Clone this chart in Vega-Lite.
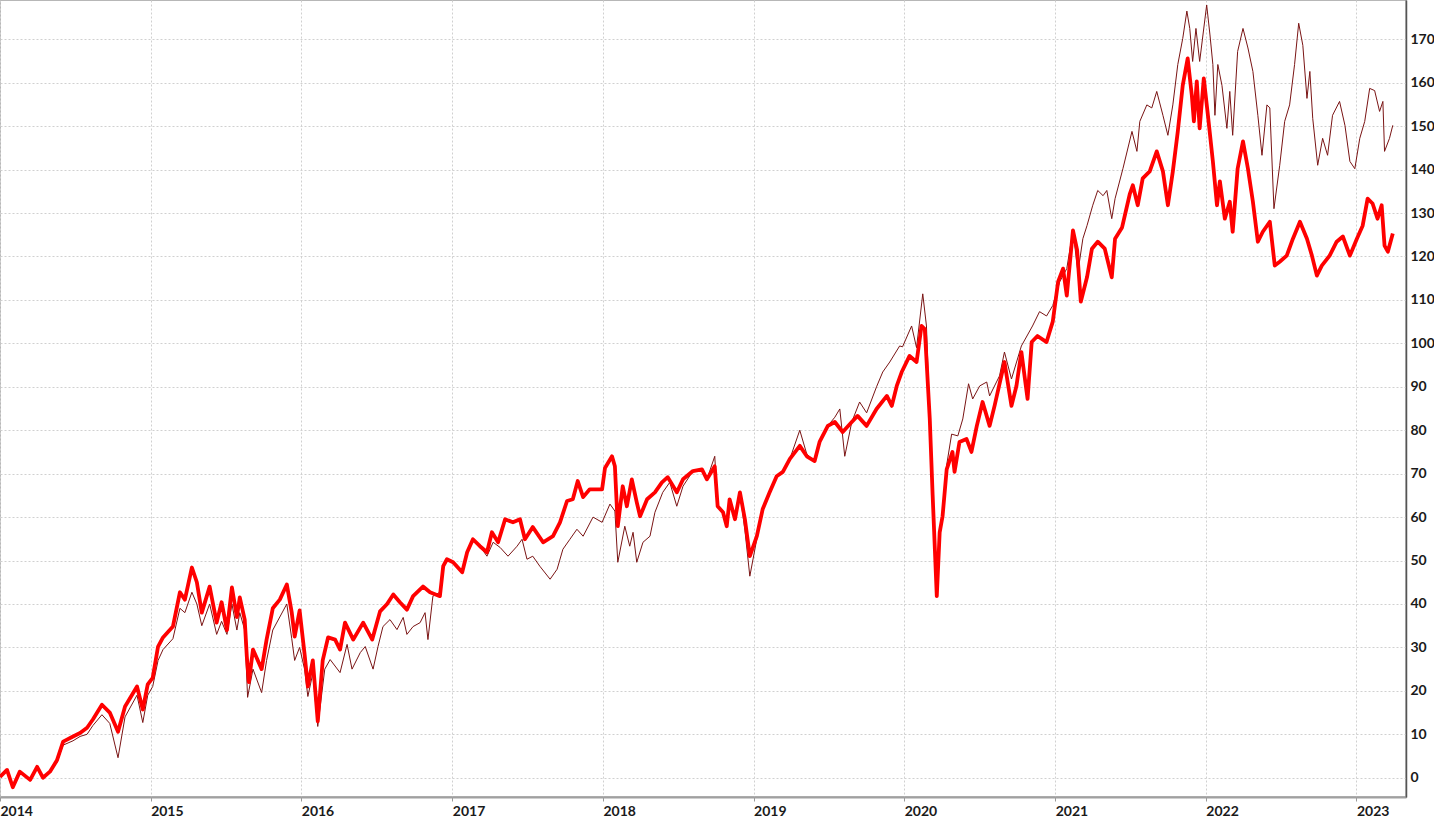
{
  "$schema": "https://vega.github.io/schema/vega-lite/v6.json",
  "width": 1406,
  "height": 797,
  "autosize": {"type": "none"},
  "padding": {"left": 0, "top": 0, "right": 28, "bottom": 23},
  "background": "#ffffff",
  "config": {
    "view": {"stroke": "#a0a0a0", "strokeWidth": 1.5},
    "axis": {"labelFont": "Lato", "labelFontWeight": "bold", "labelFontSize": 14, "labelColor": "#1a1a1a", "title": null}
  },
  "datasets": {
    "thick": [
      {"date":"2014-01-01","value":0.2},{"date":"2014-01-18","value":1.8},{"date":"2014-02-01","value":-2.2},{"date":"2014-02-18","value":1.4},{"date":"2014-03-15","value":-0.5},{"date":"2014-04-01","value":2.5},{"date":"2014-04-15","value":0},{"date":"2014-05-02","value":1.4},{"date":"2014-05-19","value":4},{"date":"2014-06-03","value":8.3},{"date":"2014-06-27","value":9.5},{"date":"2014-07-14","value":10.3},{"date":"2014-07-31","value":11.5},{"date":"2014-08-14","value":13.4},{"date":"2014-09-05","value":16.8},{"date":"2014-09-24","value":15},{"date":"2014-10-14","value":10.6},{"date":"2014-10-31","value":16.4},{"date":"2014-11-29","value":21},{"date":"2014-12-13","value":15.7},{"date":"2014-12-25","value":21.5},
      {"date":"2015-01-06","value":23},{"date":"2015-01-19","value":30.2},{"date":"2015-01-31","value":32.3},{"date":"2015-02-24","value":34.8},{"date":"2015-03-13","value":42.7},{"date":"2015-03-25","value":41},{"date":"2015-04-11","value":48.4},{"date":"2015-04-23","value":45},{"date":"2015-05-05","value":38},{"date":"2015-05-24","value":44},{"date":"2015-06-10","value":35.7},{"date":"2015-06-22","value":40.4},{"date":"2015-07-05","value":34},{"date":"2015-07-17","value":43.8},{"date":"2015-07-29","value":37},{"date":"2015-08-05","value":41.5},{"date":"2015-08-17","value":36.4},{"date":"2015-08-22","value":28},{"date":"2015-08-27","value":22},{"date":"2015-09-06","value":29.5},{"date":"2015-09-27","value":25},{"date":"2015-10-09","value":31.8},{"date":"2015-10-24","value":39},{"date":"2015-11-10","value":41},{"date":"2015-11-27","value":44.5},{"date":"2015-12-09","value":38},{"date":"2015-12-16","value":32.5},{"date":"2015-12-28","value":38.5},
      {"date":"2016-01-09","value":28.5},{"date":"2016-01-17","value":21},{"date":"2016-01-29","value":27},{"date":"2016-02-10","value":13},{"date":"2016-02-22","value":27},{"date":"2016-03-06","value":32.3},{"date":"2016-03-23","value":31.8},{"date":"2016-04-04","value":29.5},{"date":"2016-04-16","value":35.7},{"date":"2016-05-06","value":31.8},{"date":"2016-05-30","value":35.7},{"date":"2016-06-21","value":31.8},{"date":"2016-07-10","value":38.3},{"date":"2016-07-27","value":40},{"date":"2016-08-11","value":42.2},{"date":"2016-08-27","value":40.4},{"date":"2016-09-13","value":38.7},{"date":"2016-09-28","value":41.8},{"date":"2016-10-22","value":44},{"date":"2016-11-08","value":42.7},{"date":"2016-12-02","value":41.8},{"date":"2016-12-10","value":48.7},{"date":"2016-12-19","value":50.3},
      {"date":"2017-01-03","value":49.6},{"date":"2017-01-25","value":47.3},{"date":"2017-02-06","value":51.9},{"date":"2017-02-20","value":54.9},{"date":"2017-03-09","value":53.3},{"date":"2017-03-26","value":51.9},{"date":"2017-04-07","value":56.5},{"date":"2017-04-22","value":54.2},{"date":"2017-05-09","value":59.5},{"date":"2017-05-28","value":58.8},{"date":"2017-06-14","value":59.5},{"date":"2017-06-26","value":54.9},{"date":"2017-07-15","value":57.7},{"date":"2017-08-09","value":54.2},{"date":"2017-09-02","value":55.6},{"date":"2017-09-19","value":58.8},{"date":"2017-10-06","value":63.7},{"date":"2017-10-20","value":64.1},{"date":"2017-11-01","value":68.3},{"date":"2017-11-14","value":64.6},{"date":"2017-11-30","value":66.4},{"date":"2017-12-17","value":66.4},{"date":"2017-12-30","value":66.4},
      {"date":"2018-01-06","value":71.3},{"date":"2018-01-23","value":74},{"date":"2018-01-30","value":71.7},{"date":"2018-02-06","value":57.9},{"date":"2018-02-18","value":67.1},{"date":"2018-02-28","value":62.5},{"date":"2018-03-12","value":68.7},{"date":"2018-03-24","value":63.4},{"date":"2018-04-01","value":60.2},{"date":"2018-04-18","value":64.1},{"date":"2018-05-07","value":65.7},{"date":"2018-05-24","value":68},{"date":"2018-06-07","value":69.2},{"date":"2018-06-29","value":65.7},{"date":"2018-07-14","value":68.7},{"date":"2018-08-07","value":70.6},{"date":"2018-08-29","value":71},{"date":"2018-09-10","value":68.7},{"date":"2018-09-29","value":71.7},{"date":"2018-10-06","value":62.5},{"date":"2018-10-19","value":61.1},{"date":"2018-10-28","value":57.9},{"date":"2018-11-04","value":64.1},{"date":"2018-11-17","value":59.5},{"date":"2018-11-29","value":65.7},{"date":"2018-12-11","value":59.5},{"date":"2018-12-23","value":51},
      {"date":"2019-01-09","value":55.6},{"date":"2019-01-23","value":61.8},{"date":"2019-02-09","value":65.7},{"date":"2019-02-26","value":69.4},{"date":"2019-03-13","value":70.4},{"date":"2019-03-30","value":73.4},{"date":"2019-04-23","value":76.4},{"date":"2019-05-10","value":74},{"date":"2019-05-29","value":72.9},{"date":"2019-06-10","value":77.3},{"date":"2019-06-30","value":81},{"date":"2019-07-17","value":81.9},{"date":"2019-08-05","value":79.6},{"date":"2019-08-27","value":81.9},{"date":"2019-09-10","value":83.3},{"date":"2019-10-02","value":81},{"date":"2019-10-26","value":84.9},{"date":"2019-11-20","value":87.9},{"date":"2019-12-02","value":85.6},{"date":"2019-12-14","value":90.2},{"date":"2019-12-26","value":93.4},
      {"date":"2020-01-14","value":97.1},{"date":"2020-01-31","value":95.7},{"date":"2020-02-12","value":104},{"date":"2020-02-20","value":103.3},{"date":"2020-03-03","value":82.6},{"date":"2020-03-10","value":65},{"date":"2020-03-20","value":41.8},{"date":"2020-03-27","value":56.5},{"date":"2020-04-03","value":60.2},{"date":"2020-04-13","value":71},{"date":"2020-04-27","value":75},{"date":"2020-05-02","value":70.4},{"date":"2020-05-14","value":77.3},{"date":"2020-05-31","value":78},{"date":"2020-06-12","value":75},{"date":"2020-06-25","value":81},{"date":"2020-07-09","value":86.5},{"date":"2020-07-26","value":81},{"date":"2020-08-07","value":85.6},{"date":"2020-08-31","value":95.7},{"date":"2020-09-17","value":85.6},{"date":"2020-09-29","value":90.2},{"date":"2020-10-11","value":98},{"date":"2020-10-26","value":87.2},{"date":"2020-11-05","value":100.3},{"date":"2020-11-19","value":101.7},{"date":"2020-12-11","value":100.3},{"date":"2020-12-26","value":105},
      {"date":"2021-01-08","value":114.2},{"date":"2021-01-20","value":117.2},{"date":"2021-01-29","value":111},{"date":"2021-02-13","value":126},{"date":"2021-02-23","value":121.5},{"date":"2021-03-04","value":109.6},{"date":"2021-03-19","value":115.2},{"date":"2021-03-31","value":121.8},{"date":"2021-04-14","value":123.4},{"date":"2021-05-01","value":121.8},{"date":"2021-05-18","value":115.2},{"date":"2021-05-26","value":124.1},{"date":"2021-06-12","value":126.7},{"date":"2021-07-01","value":134.5},{"date":"2021-07-08","value":136.4},{"date":"2021-07-20","value":131.8},{"date":"2021-08-01","value":138},{"date":"2021-08-18","value":139.6},{"date":"2021-09-04","value":144.2},{"date":"2021-09-19","value":139.6},{"date":"2021-10-01","value":131.8},{"date":"2021-10-13","value":139.6},{"date":"2021-10-25","value":148.8},{"date":"2021-11-06","value":159.4},{"date":"2021-11-18","value":165.6},{"date":"2021-11-28","value":157.1},{"date":"2021-12-03","value":151.1},{"date":"2021-12-10","value":160.3},{"date":"2021-12-17","value":149.5},{"date":"2021-12-27","value":161},
      {"date":"2022-01-06","value":152.5},{"date":"2022-01-18","value":141.9},{"date":"2022-01-28","value":131.8},{"date":"2022-02-04","value":137.3},{"date":"2022-02-16","value":128.7},{"date":"2022-02-28","value":132.6},{"date":"2022-03-07","value":125.7},{"date":"2022-03-19","value":140.2},{"date":"2022-04-01","value":146.5},{"date":"2022-04-13","value":140.2},{"date":"2022-04-25","value":132.6},{"date":"2022-05-07","value":123.4},{"date":"2022-05-19","value":125.7},{"date":"2022-06-05","value":128},{"date":"2022-06-17","value":117.9},{"date":"2022-06-29","value":118.8},{"date":"2022-07-16","value":120.2},{"date":"2022-07-31","value":124.1},{"date":"2022-08-17","value":128},{"date":"2022-09-03","value":124.1},{"date":"2022-09-15","value":120.2},{"date":"2022-09-27","value":115.6},{"date":"2022-10-09","value":117.9},{"date":"2022-10-28","value":120.2},{"date":"2022-11-14","value":123.4},{"date":"2022-11-29","value":124.6},{"date":"2022-12-16","value":120.2},
      {"date":"2023-01-02","value":124.1},{"date":"2023-01-16","value":127.1},{"date":"2023-01-28","value":133.3},{"date":"2023-02-09","value":132.2},{"date":"2023-02-21","value":128.7},{"date":"2023-03-03","value":131.8},{"date":"2023-03-10","value":122.5},{"date":"2023-03-18","value":121.1},{"date":"2023-03-30","value":125.3}
    ],
    "thin": [
      {"date":"2014-01-01","value":0.2},{"date":"2014-01-18","value":1.8},{"date":"2014-02-01","value":-2.2},{"date":"2014-02-18","value":1.4},{"date":"2014-03-15","value":-0.5},{"date":"2014-04-01","value":2.5},{"date":"2014-04-15","value":0},{"date":"2014-05-02","value":1.4},{"date":"2014-05-19","value":3.5},{"date":"2014-06-03","value":7.5},{"date":"2014-06-27","value":8.5},{"date":"2014-07-14","value":9.5},{"date":"2014-07-31","value":10},{"date":"2014-08-14","value":12},{"date":"2014-09-05","value":14.5},{"date":"2014-09-24","value":12.5},{"date":"2014-10-14","value":4.6},{"date":"2014-10-31","value":14},{"date":"2014-11-29","value":19},{"date":"2014-12-13","value":12.7},{"date":"2014-12-25","value":19},
      {"date":"2015-01-06","value":21},{"date":"2015-01-19","value":27},{"date":"2015-01-31","value":29.5},{"date":"2015-02-24","value":32},{"date":"2015-03-13","value":39},{"date":"2015-03-25","value":38},{"date":"2015-04-11","value":42.7},{"date":"2015-04-23","value":40},{"date":"2015-05-05","value":35},{"date":"2015-05-24","value":40},{"date":"2015-06-10","value":33},{"date":"2015-06-22","value":36},{"date":"2015-07-05","value":33},{"date":"2015-07-17","value":40},{"date":"2015-07-29","value":34},{"date":"2015-08-05","value":38},{"date":"2015-08-17","value":34},{"date":"2015-08-24","value":18.5},{"date":"2015-09-06","value":25},{"date":"2015-09-27","value":19.6},{"date":"2015-10-09","value":27},{"date":"2015-10-24","value":34},{"date":"2015-11-10","value":37},{"date":"2015-11-27","value":40},{"date":"2015-12-09","value":32},{"date":"2015-12-16","value":27},{"date":"2015-12-28","value":30},
      {"date":"2016-01-09","value":25},{"date":"2016-01-17","value":18.7},{"date":"2016-01-29","value":24},{"date":"2016-02-10","value":11.8},{"date":"2016-02-27","value":25},{"date":"2016-03-11","value":27.2},{"date":"2016-04-04","value":24.2},{"date":"2016-04-21","value":30.7},{"date":"2016-05-03","value":25},{"date":"2016-05-23","value":28.8},{"date":"2016-06-04","value":30.2},{"date":"2016-06-23","value":25},{"date":"2016-07-05","value":30.2},{"date":"2016-07-17","value":34.8},{"date":"2016-08-03","value":36.4},{"date":"2016-08-20","value":34.1},{"date":"2016-09-04","value":36.9},{"date":"2016-09-13","value":33},{"date":"2016-09-28","value":34.8},{"date":"2016-10-15","value":35.7},{"date":"2016-10-27","value":38},{"date":"2016-11-03","value":31.8},{"date":"2016-11-15","value":41.8},{"date":"2016-12-02","value":42.7},{"date":"2016-12-10","value":48.7},{"date":"2016-12-19","value":50.3},
      {"date":"2017-01-03","value":49.6},{"date":"2017-01-25","value":47.3},{"date":"2017-02-06","value":51.9},{"date":"2017-02-20","value":54.9},{"date":"2017-03-09","value":53.3},{"date":"2017-03-26","value":51},{"date":"2017-04-10","value":54.2},{"date":"2017-04-27","value":53},{"date":"2017-05-16","value":51},{"date":"2017-06-07","value":53.3},{"date":"2017-06-19","value":54.9},{"date":"2017-07-01","value":50.3},{"date":"2017-07-15","value":51},{"date":"2017-08-01","value":48.7},{"date":"2017-08-26","value":45.7},{"date":"2017-09-12","value":48},{"date":"2017-09-26","value":52.6},{"date":"2017-10-13","value":54.9},{"date":"2017-10-30","value":57.2},{"date":"2017-11-14","value":55.6},{"date":"2017-12-08","value":60},{"date":"2017-12-30","value":58.8},
      {"date":"2018-01-18","value":63},{"date":"2018-01-30","value":61.4},{"date":"2018-02-06","value":49.6},{"date":"2018-02-23","value":57.9},{"date":"2018-03-07","value":53.3},{"date":"2018-03-15","value":56.5},{"date":"2018-03-24","value":49.6},{"date":"2018-04-08","value":54.2},{"date":"2018-04-25","value":55.6},{"date":"2018-05-07","value":61.1},{"date":"2018-05-26","value":65.7},{"date":"2018-06-12","value":68},{"date":"2018-06-29","value":62.5},{"date":"2018-07-14","value":67.1},{"date":"2018-08-07","value":70.6},{"date":"2018-08-29","value":71},{"date":"2018-09-10","value":68.7},{"date":"2018-09-29","value":74},{"date":"2018-10-06","value":62.5},{"date":"2018-10-19","value":61.1},{"date":"2018-10-28","value":57.9},{"date":"2018-11-04","value":64.1},{"date":"2018-11-17","value":59.5},{"date":"2018-11-29","value":65.7},{"date":"2018-12-11","value":57},{"date":"2018-12-23","value":46.4},
      {"date":"2019-01-09","value":55},{"date":"2019-01-23","value":61.8},{"date":"2019-02-09","value":65.7},{"date":"2019-02-26","value":69.4},{"date":"2019-03-13","value":70.4},{"date":"2019-03-30","value":73.4},{"date":"2019-04-23","value":80},{"date":"2019-05-10","value":74.5},{"date":"2019-05-29","value":72.9},{"date":"2019-06-10","value":77.3},{"date":"2019-06-30","value":81},{"date":"2019-07-17","value":83},{"date":"2019-07-29","value":84.9},{"date":"2019-08-10","value":74},{"date":"2019-08-27","value":81.9},{"date":"2019-09-15","value":86.5},{"date":"2019-10-02","value":84},{"date":"2019-10-26","value":90},{"date":"2019-11-10","value":93.4},{"date":"2019-11-27","value":95.7},{"date":"2019-12-21","value":99.4},{"date":"2019-12-28","value":99.2},
      {"date":"2020-01-19","value":104},{"date":"2020-01-31","value":99},{"date":"2020-02-15","value":111.4},{"date":"2020-02-24","value":104},{"date":"2020-03-03","value":82.6},{"date":"2020-03-10","value":65},{"date":"2020-03-20","value":41.8},{"date":"2020-03-27","value":56.5},{"date":"2020-04-03","value":60.2},{"date":"2020-04-13","value":72},{"date":"2020-04-25","value":79.1},{"date":"2020-05-10","value":78.7},{"date":"2020-05-22","value":82.6},{"date":"2020-06-05","value":90.7},{"date":"2020-06-15","value":87.2},{"date":"2020-07-02","value":90.2},{"date":"2020-07-19","value":91.1},{"date":"2020-07-26","value":87.9},{"date":"2020-08-19","value":92.5},{"date":"2020-08-31","value":98},{"date":"2020-09-17","value":91.8},{"date":"2020-10-11","value":99.4},{"date":"2020-11-07","value":104},{"date":"2020-11-24","value":107.3},{"date":"2020-12-11","value":106.3},{"date":"2020-12-26","value":108.7},
      {"date":"2021-01-12","value":114.2},{"date":"2021-01-29","value":117.2},{"date":"2021-02-13","value":126},{"date":"2021-02-25","value":116.4},{"date":"2021-03-09","value":124.1},{"date":"2021-03-19","value":127.1},{"date":"2021-04-02","value":131.8},{"date":"2021-04-14","value":135.2},{"date":"2021-04-27","value":134},{"date":"2021-05-06","value":135.2},{"date":"2021-05-18","value":128.7},{"date":"2021-05-26","value":133.3},{"date":"2021-06-14","value":140.2},{"date":"2021-07-06","value":148.8},{"date":"2021-07-18","value":144.2},{"date":"2021-07-25","value":151.1},{"date":"2021-08-11","value":154.9},{"date":"2021-08-23","value":154.2},{"date":"2021-09-04","value":158},{"date":"2021-09-19","value":152.5},{"date":"2021-10-01","value":147.9},{"date":"2021-10-13","value":154.9},{"date":"2021-10-25","value":164.2},{"date":"2021-11-06","value":170.2},{"date":"2021-11-16","value":176.5},{"date":"2021-11-23","value":172.5},{"date":"2021-11-30","value":164.9},{"date":"2021-12-08","value":172.5},{"date":"2021-12-17","value":164.9},
      {"date":"2022-01-03","value":177.9},{"date":"2022-01-11","value":171},{"date":"2022-01-18","value":164.2},{"date":"2022-01-23","value":152.5},{"date":"2022-01-30","value":164.2},{"date":"2022-02-09","value":159.4},{"date":"2022-02-21","value":149.5},{"date":"2022-02-28","value":158},{"date":"2022-03-07","value":147.9},{"date":"2022-03-19","value":167.2},{"date":"2022-04-01","value":172.5},{"date":"2022-04-13","value":168},{"date":"2022-04-25","value":162.6},{"date":"2022-05-07","value":152.5},{"date":"2022-05-17","value":143.3},{"date":"2022-05-29","value":154.9},{"date":"2022-06-05","value":154.2},{"date":"2022-06-15","value":131},{"date":"2022-06-29","value":141},{"date":"2022-07-11","value":151.1},{"date":"2022-07-23","value":154.9},{"date":"2022-08-04","value":164.2},{"date":"2022-08-14","value":173.7},{"date":"2022-08-24","value":168.6},{"date":"2022-09-03","value":156.4},{"date":"2022-09-10","value":162.6},{"date":"2022-09-17","value":151.8},{"date":"2022-09-29","value":141},{"date":"2022-10-11","value":147.2},{"date":"2022-10-23","value":143.3},{"date":"2022-11-04","value":152.5},{"date":"2022-11-21","value":155.7},{"date":"2022-12-04","value":150.2},{"date":"2022-12-16","value":141.9},{"date":"2022-12-28","value":140.2},
      {"date":"2023-01-09","value":147.2},{"date":"2023-01-21","value":151.1},{"date":"2023-02-02","value":158.7},{"date":"2023-02-14","value":158.2},{"date":"2023-02-26","value":153.4},{"date":"2023-03-06","value":155.7},{"date":"2023-03-10","value":144.2},{"date":"2023-03-22","value":147.2},{"date":"2023-03-30","value":150.2}
    ]
  },
  "encoding": {
    "x": {
      "field": "date", "type": "temporal",
      "scale": {"domain": ["2014-01-01", "2023-05-01"]},
      "axis": {"format": "%Y", "tickCount": {"interval": "year", "step": 1}, "labelAlign": "left", "labelBaseline": "top", "labelPadding": 3, "tickSize": 4, "tickColor": "#999999", "domainColor": "#a0a0a0", "domainWidth": 2, "grid": true, "gridColor": "#d0d0d0", "gridDash": [2, 2], "labelFlush": false, "labelOverlap": false}
    },
    "y": {
      "field": "value", "type": "quantitative",
      "scale": {"domain": [-4.44, 179.05], "nice": false, "zero": false},
      "axis": {"orient": "right", "values": [0,10,20,30,40,50,60,70,80,90,100,110,120,130,140,150,160,170], "ticks": false, "labelPadding": 4, "labelAlign": "left", "domainColor": "#555555", "domainWidth": 1.5, "grid": true, "gridColor": "#d0d0d0", "gridDash": [2, 2]}
    }
  },
  "layer": [
    {"data": {"name": "thin"}, "mark": {"type": "line", "color": "#7a1414", "strokeWidth": 1, "strokeJoin": "round"}},
    {"data": {"name": "thick"}, "mark": {"type": "line", "color": "#ff0000", "strokeWidth": 3.8, "strokeJoin": "round"}}
  ]
}
